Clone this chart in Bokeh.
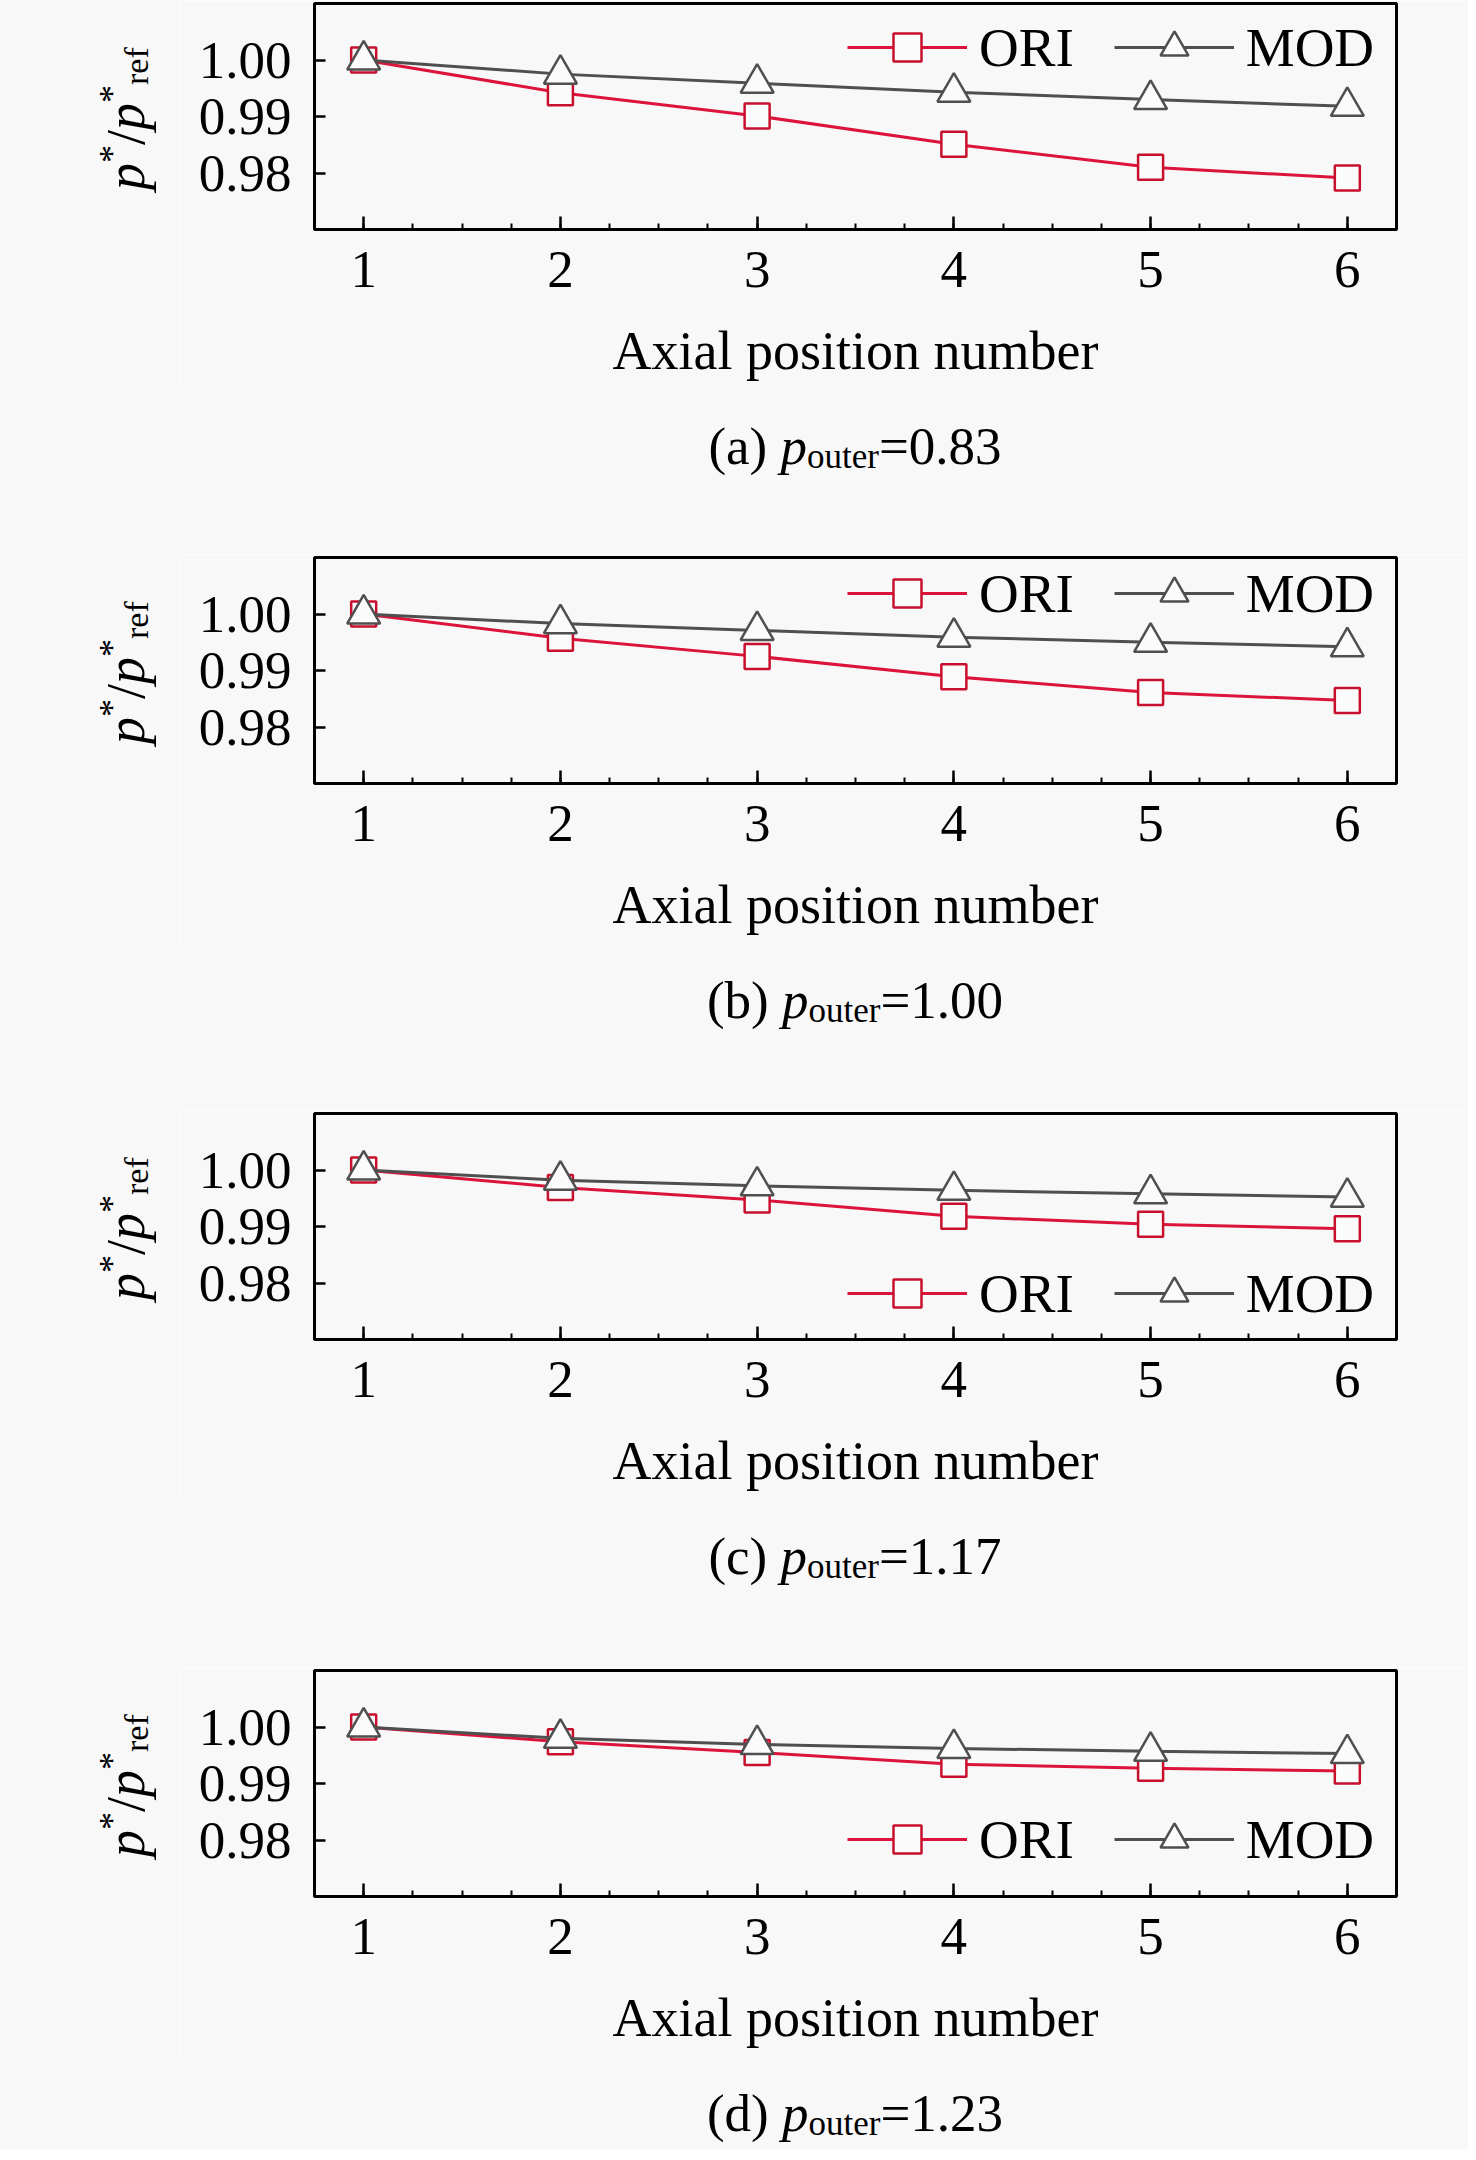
import numpy as np
from bokeh.plotting import figure
from bokeh.models import Legend, LegendItem, FixedTicker, PrintfTickFormatter, Range1d, Div
from bokeh.layouts import column, row
from bokeh.embed import file_html
from bokeh.resources import INLINE

# ---------------- data ----------------
positions = [1, 2, 3, 4, 5, 6]
ori_a = [1.000, 0.9942, 0.9901, 0.9851, 0.9810, 0.9791]
mod_a = [1.000, 0.9975, 0.9959, 0.9943, 0.9930, 0.9918]
ori_b = [1.000, 0.9957, 0.9925, 0.9889, 0.9861, 0.9847]
mod_b = [1.000, 0.9983, 0.9971, 0.9959, 0.9950, 0.9942]
ori_c = [1.000, 0.9969, 0.9947, 0.9918, 0.9904, 0.9896]
mod_c = [1.000, 0.9982, 0.9972, 0.9964, 0.9958, 0.9952]
ori_d = [1.000, 0.9974, 0.9955, 0.9934, 0.9927, 0.9922]
mod_d = [1.000, 0.9980, 0.9969, 0.9962, 0.9957, 0.9953]
panel_letters = ["(a)", "(b)", "(c)", "(d)"]
p_outer_values = ["0.83", "1.00", "1.17", "1.23"]
series_names = ["ORI", "MOD"]
x_ticks = [1, 2, 3, 4, 5, 6]
y_ticks = [0.98, 0.99, 1.00]
x_label = "Axial position number"

# ---------------- style ----------------
FONT = "Liberation Serif"
BG = "#f8f8f8"
RED = "#dc143c"
RED_M = "#c8102e"
GRAY = "#4f4f4f"
FILL = "#fbfbfb"

FRAME_W = 1082
FRAME_H = 226
TOP = 3
MAIN_BOTTOM = 160
MAIN_H = TOP + FRAME_H + MAIN_BOTTOM
YLAB_W = 180
TOTAL_W = 1468
FRAME_LEFT = 314
RIGHT = TOTAL_W - FRAME_LEFT - FRAME_W


def ylabel_div():
    html = (
        f'<div style="position:relative;width:{YLAB_W}px;height:{MAIN_H}px;">'
        f'<div style="position:absolute;left:99px;top:190px;transform:rotate(-90deg);'
        f"transform-origin:0 0;white-space:nowrap;font-family:'{FONT}';font-size:54px;"
        f'line-height:54px;color:black;">'
        '<i>p</i>'
        '<span style="font-size:36px;position:relative;top:-20px;">*</span>'
        '/'
        '<i>p</i>'
        '<span style="font-size:36px;position:relative;top:-20px;">*</span>'
        '<span style="font-size:34px;position:relative;top:4px;">ref</span>'
        '</div></div>'
    )
    return Div(text=html, width=YLAB_W, height=MAIN_H, margin=(0, 0, 0, 0),
               styles={"background-color": BG, "overflow": "visible"})


def caption_div(letter, pval, cap_h):
    pad_left = 2 * (FRAME_LEFT + FRAME_W / 2 - TOTAL_W / 2)
    html = (
        f'<div style="width:{TOTAL_W}px;box-sizing:border-box;padding-left:{pad_left:.0f}px;'
        f"padding-top:31px;text-align:center;font-family:'{FONT}';font-size:53px;"
        f'line-height:53px;white-space:nowrap;color:black;">'
        f'{letter} <i>p</i>'
        '<span style="font-size:35px;position:relative;top:4px;">outer</span>'
        f'={pval}</div>'
    )
    return Div(text=html, width=TOTAL_W, height=cap_h, margin=(0, 0, 0, 0),
               styles={"background-color": BG, "overflow": "visible"})


def make_panel(ori, mod, letter, pval, panel_h, legend_y):
    p = figure(frame_width=FRAME_W, frame_height=FRAME_H,
               min_border_left=FRAME_LEFT - YLAB_W, min_border_right=RIGHT,
               min_border_top=TOP, min_border_bottom=MAIN_BOTTOM,
               x_range=Range1d(0.75, 6.25), y_range=Range1d(0.97, 1.01),
               output_backend="svg", toolbar_location=None,
               background_fill_color=BG, border_fill_color=BG)
    p.xgrid.visible = False
    p.ygrid.visible = False
    p.outline_line_color = "black"
    p.outline_line_width = 3
    p.outline_line_alpha = 1.0

    xa = p.xaxis[0]
    xa.ticker = FixedTicker(ticks=x_ticks, minor_ticks=list(np.arange(0.75, 6.26, 0.25)))
    xa.major_label_text_font = FONT
    xa.major_label_text_font_size = "53px"
    xa.major_label_text_color = "black"
    xa.major_label_standoff = 22
    xa.major_tick_in = 13
    xa.major_tick_out = 0
    xa.minor_tick_in = 6
    xa.minor_tick_out = 0
    xa.major_tick_line_width = 2.5
    xa.minor_tick_line_width = 2
    xa.major_tick_line_color = "black"
    xa.minor_tick_line_color = "black"
    xa.axis_line_width = 3
    xa.axis_line_color = "black"
    xa.axis_label = x_label
    xa.axis_label_text_font = FONT
    xa.axis_label_text_font_style = "normal"
    xa.axis_label_text_font_size = "54px"
    xa.axis_label_text_color = "black"
    xa.axis_label_standoff = 31

    ya = p.yaxis[0]
    ya.ticker = FixedTicker(ticks=y_ticks)
    ya.formatter = PrintfTickFormatter(format="%.2f")
    ya.major_label_text_font = FONT
    ya.major_label_text_font_size = "53px"
    ya.major_label_text_color = "black"
    ya.major_label_standoff = 23
    ya.major_tick_in = 11
    ya.major_tick_out = 0
    ya.major_tick_line_width = 2.5
    ya.major_tick_line_color = "black"
    ya.minor_tick_line_color = None
    ya.axis_line_width = 3
    ya.axis_line_color = "black"

    r1 = p.line(positions, ori, line_color=RED, line_width=3)
    s1 = p.scatter(positions, ori, marker="square", size=25, line_color=RED_M,
                   line_width=2.5, fill_color=FILL)
    r2 = p.line(positions, mod, line_color=GRAY, line_width=3)
    s2 = p.scatter(positions, mod, marker="triangle", size=33, line_color=GRAY,
                   line_width=2.5, fill_color=FILL)

    legend = Legend(items=[LegendItem(label=series_names[0], renderers=[r1, s1]),
                           LegendItem(label=series_names[1], renderers=[r2, s2])],
                    orientation="horizontal", location=(533, legend_y),
                    glyph_width=120, glyph_height=70, label_standoff=12, spacing=40,
                    padding=0, margin=0, border_line_color=None,
                    background_fill_alpha=0, label_text_font=FONT,
                    label_text_font_size="55px", label_text_color="black")
    p.add_layout(legend)

    cap_h = panel_h - MAIN_H
    return column(row(ylabel_div(), p, spacing=0), caption_div(letter, pval, cap_h), spacing=0)


panels = [
    make_panel(ori_a, mod_a, panel_letters[0], p_outer_values[0], 554, 147),
    make_panel(ori_b, mod_b, panel_letters[1], p_outer_values[1], 556, 155),
    make_panel(ori_c, mod_c, panel_letters[2], p_outer_values[2], 557, 11),
    make_panel(ori_d, mod_d, panel_letters[3], p_outer_values[3], 482, 22),
]

layout = column(*panels, spacing=0)
open("out.html", "w").write(file_html(layout, INLINE))
